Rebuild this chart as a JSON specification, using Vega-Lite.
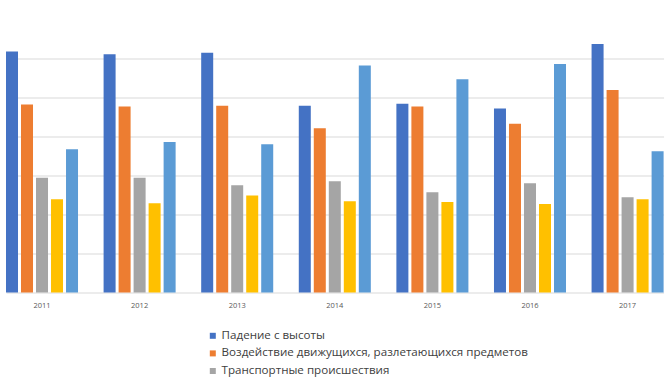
{
  "$schema": "https://vega.github.io/schema/vega-lite/v6.json",
  "width": 660,
  "height": 273,
  "autosize": {"type": "none"},
  "padding": {"top": 19.5, "left": 0, "right": 11, "bottom": 84.5},
  "background": "white",
  "config": {"view": {"stroke": null}, "font": "Open Sans"},
  "data": {"values": [
    {"year": "2011", "s": "Падение с высоты", "o": 1, "v": 6.18},
    {"year": "2011", "s": "Воздействие движущихся, разлетающихся предметов", "o": 2, "v": 4.82},
    {"year": "2011", "s": "Транспортные происшествия", "o": 3, "v": 2.94},
    {"year": "2011", "s": "Обрушения, обвалы", "o": 4, "v": 2.39},
    {"year": "2011", "s": "Прочие", "o": 5, "v": 3.67},
    {"year": "2012", "s": "Падение с высоты", "o": 1, "v": 6.11},
    {"year": "2012", "s": "Воздействие движущихся, разлетающихся предметов", "o": 2, "v": 4.77},
    {"year": "2012", "s": "Транспортные происшествия", "o": 3, "v": 2.94},
    {"year": "2012", "s": "Обрушения, обвалы", "o": 4, "v": 2.29},
    {"year": "2012", "s": "Прочие", "o": 5, "v": 3.86},
    {"year": "2013", "s": "Падение с высоты", "o": 1, "v": 6.15},
    {"year": "2013", "s": "Воздействие движущихся, разлетающихся предметов", "o": 2, "v": 4.79},
    {"year": "2013", "s": "Транспортные происшествия", "o": 3, "v": 2.75},
    {"year": "2013", "s": "Обрушения, обвалы", "o": 4, "v": 2.49},
    {"year": "2013", "s": "Прочие", "o": 5, "v": 3.80},
    {"year": "2014", "s": "Падение с высоты", "o": 1, "v": 4.79},
    {"year": "2014", "s": "Воздействие движущихся, разлетающихся предметов", "o": 2, "v": 4.21},
    {"year": "2014", "s": "Транспортные происшествия", "o": 3, "v": 2.85},
    {"year": "2014", "s": "Обрушения, обвалы", "o": 4, "v": 2.34},
    {"year": "2014", "s": "Прочие", "o": 5, "v": 5.82},
    {"year": "2015", "s": "Падение с высоты", "o": 1, "v": 4.84},
    {"year": "2015", "s": "Воздействие движущихся, разлетающихся предметов", "o": 2, "v": 4.77},
    {"year": "2015", "s": "Транспортные происшествия", "o": 3, "v": 2.57},
    {"year": "2015", "s": "Обрушения, обвалы", "o": 4, "v": 2.32},
    {"year": "2015", "s": "Прочие", "o": 5, "v": 5.47},
    {"year": "2016", "s": "Падение с высоты", "o": 1, "v": 4.72},
    {"year": "2016", "s": "Воздействие движущихся, разлетающихся предметов", "o": 2, "v": 4.33},
    {"year": "2016", "s": "Транспортные происшествия", "o": 3, "v": 2.80},
    {"year": "2016", "s": "Обрушения, обвалы", "o": 4, "v": 2.27},
    {"year": "2016", "s": "Прочие", "o": 5, "v": 5.86},
    {"year": "2017", "s": "Падение с высоты", "o": 1, "v": 6.37},
    {"year": "2017", "s": "Воздействие движущихся, разлетающихся предметов", "o": 2, "v": 5.19},
    {"year": "2017", "s": "Транспортные происшествия", "o": 3, "v": 2.44},
    {"year": "2017", "s": "Обрушения, обвалы", "o": 4, "v": 2.39},
    {"year": "2017", "s": "Прочие", "o": 5, "v": 3.62}
  ]},
  "mark": {"type": "bar"},
  "encoding": {
    "x": {
      "field": "year", "type": "nominal",
      "scale": {"range": [6, 663.6], "paddingInner": 0.262, "paddingOuter": 0},
      "axis": {"title": null, "domain": false, "ticks": false, "labelAngle": 0, "labelFontSize": 7.5, "labelColor": "#595959", "labelPadding": 9, "grid": false}
    },
    "xOffset": {"field": "o", "type": "ordinal", "scale": {"paddingInner": 0.2, "paddingOuter": 0}},
    "y": {
      "field": "v", "type": "quantitative",
      "scale": {"domain": [0, 7], "nice": false},
      "axis": {"title": null, "labels": false, "ticks": false, "domain": false, "values": [0, 1, 2, 3, 4, 5, 6], "gridColor": "#d9d9d9", "gridWidth": 1}
    },
    "color": {
      "field": "s", "type": "nominal",
      "sort": ["Падение с высоты", "Воздействие движущихся, разлетающихся предметов", "Транспортные происшествия", "Обрушения, обвалы", "Прочие"],
      "scale": {"range": ["#4472C4", "#ED7D31", "#A5A5A5", "#FFC000", "#5B9BD5"]},
      "legend": {
        "title": null, "orient": "none", "legendX": 207, "legendY": 310.5,
        "symbolType": "square", "symbolSize": 36, "symbolStrokeWidth": 0,
        "labelFontSize": 11.6, "labelColor": "#404040", "labelOffset": 3, "labelLimit": 500,
        "rowPadding": 4.6, "padding": 0, "direction": "vertical"
      }
    }
  }
}
